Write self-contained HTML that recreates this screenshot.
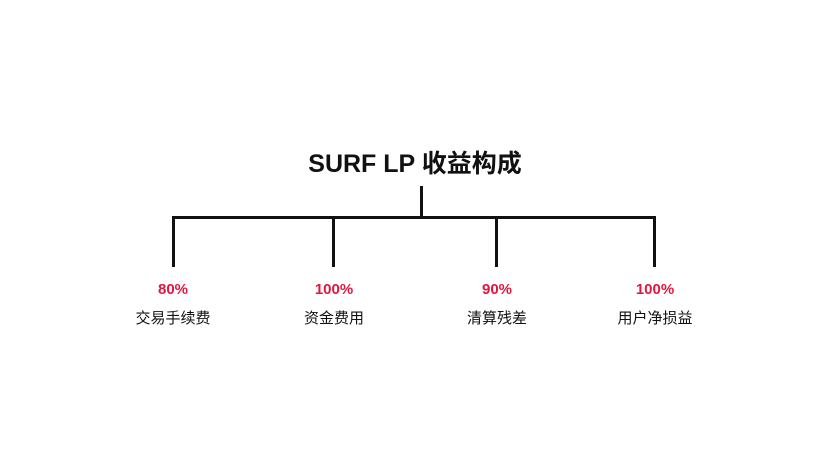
<!DOCTYPE html>
<html><head><meta charset="utf-8"><style>
body{margin:0;width:830px;height:470px;background:#fff;position:relative;overflow:hidden;font-family:"Liberation Sans","Noto Sans CJK SC",sans-serif}
.t{position:absolute;left:0;width:830px;top:144px;text-align:center;font-size:25px;font-weight:bold;color:#111}
.l{position:absolute;background:#111}
.p{position:absolute;width:120px;margin-left:-60px;text-align:center;font-size:15px;font-weight:bold;color:#e3173e;top:281px}
.n{position:absolute;width:120px;margin-left:-60px;text-align:center;font-size:15px;color:#111;top:307px}
</style></head><body>
<div class="t">SURF LP 收益构成</div>
<div class="l" style="left:420px;top:186px;width:3px;height:32px"></div>
<div class="l" style="left:172px;top:216px;width:484px;height:3px"></div>
<div class="l" style="left:172px;top:216px;width:3px;height:51px"></div>
<div class="l" style="left:332px;top:216px;width:3px;height:51px"></div>
<div class="l" style="left:495px;top:216px;width:3px;height:51px"></div>
<div class="l" style="left:653px;top:216px;width:3px;height:51px"></div>
<div class="p" style="left:173px">80%</div><div class="n" style="left:173px">交易手续费</div>
<div class="p" style="left:334px">100%</div><div class="n" style="left:334px">资金费用</div>
<div class="p" style="left:497px">90%</div><div class="n" style="left:497px">清算残差</div>
<div class="p" style="left:655px">100%</div><div class="n" style="left:655px">用户净损益</div>
</body></html>
